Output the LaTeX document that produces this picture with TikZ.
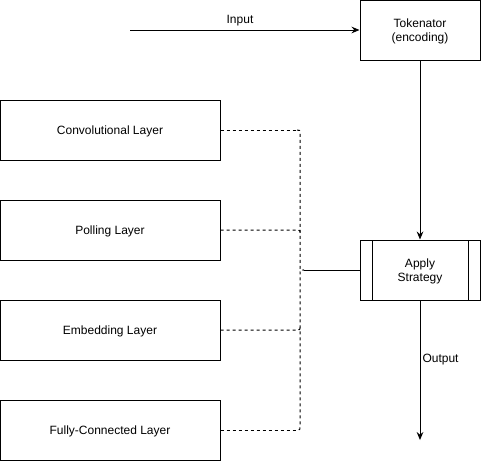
\documentclass[tikz,border=0pt]{standalone}
\usepackage{fontspec}
\setmainfont{Liberation Sans}
\usetikzlibrary{arrows.meta}
\begin{document}
\begin{tikzpicture}[x=0.75pt,y=-0.75pt,
  font=\fontsize{9}{10.5}\selectfont, line width=0.75pt,
  layerbox/.style={draw, minimum width=165pt, minimum height=45pt, inner sep=0pt, align=center, text depth=0pt},
  smallbox/.style={draw, minimum width=90pt, minimum height=45pt, inner sep=0pt, align=center, text depth=0pt},
  procbox/.style={smallbox, path picture={
      \draw ([xshift=9pt]path picture bounding box.north west) -- ([xshift=9pt]path picture bounding box.south west);
      \draw ([xshift=-9pt]path picture bounding box.north east) -- ([xshift=-9pt]path picture bounding box.south east);}},
  arr/.style={-{Stealth[length=6pt,width=5pt,inset=2pt]}},
  dashline/.style={dash pattern=on 2.25pt off 2.25pt},
  lbl/.style={inner sep=0pt}]
\useasboundingbox (0,0) rectangle (481,461);

\node[smallbox] (tok) at (420,30) {Tokenator\\(encoding)};
\node[procbox] (apply) at (420,270) {Apply\\Strategy};
\node[layerbox] (conv) at (110,130) {Convolutional Layer};
\node[layerbox] (poll) at (110,230) {Polling Layer};
\node[layerbox] (emb) at (110,330) {Embedding Layer};
\node[layerbox] (fc) at (110,430) {Fully-Connected Layer};

\coordinate (in) at (130,30);
\coordinate (out) at (420,440);
\coordinate (tip) at (304,270);
\coordinate (b1) at (297,130);
\coordinate (b2) at (297,230);
\coordinate (b3) at (297,330);
\coordinate (b4) at (297,430);

\draw[arr] (in) -- (tok.west);
\node[lbl] (inlbl) at (240,21) {Input};
\draw[arr] (tok.south) -- (apply.north);
\draw[arr] (apply.south) -- (out);
\node[lbl, anchor=west] (outlbl) at (422,360) {Output};

\draw[dashline] (b1) .. controls (300,130) .. (300,134) -- (300,266)
  .. controls (300,270) .. (tip) .. controls (300,270) .. (300,274)
  -- (300,426) .. controls (300,430) .. (b4);
\draw[dashline] (conv.east) -- (b1);
\draw[dashline] (poll.east) -- (b2) .. controls (300,230) .. (300,234);
\draw[dashline] (emb.east) -- (b3) .. controls (300,330) .. (300,326);
\draw[dashline] (fc.east) -- (b4);
\draw (tip) -- (apply.west);
\end{tikzpicture}
\end{document}
